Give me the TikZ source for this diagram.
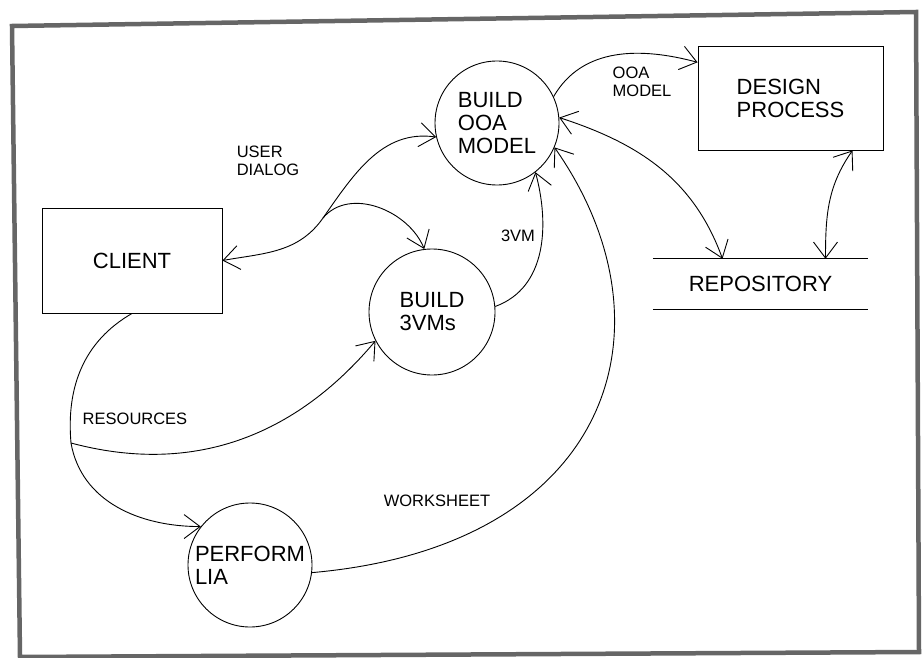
\documentclass[tikz,border=0pt]{standalone}
\usepackage{fontspec}
\setmainfont{Liberation Sans}
\usetikzlibrary{arrows.meta}

\begin{document}
\begin{tikzpicture}[x=1pt, y=1pt,
    every node/.style={font=\fontsize{22}{23}\selectfont},
    process/.style={draw, circle, line width=0.9pt, inner sep=0pt, minimum size=124pt, align=left},
    entity/.style={draw, rectangle, line width=0.9pt, inner sep=0pt, align=left},
    note/.style={font=\fontsize{16.5}{18.5}\selectfont, align=left},
    flow/.style={line width=0.9pt, >={Straight Barb[length=16pt, width=24pt, line width=0.9pt]}},
]
\useasboundingbox (0,0) rectangle (923,-658);

% scanned page frame
\draw[black!60, line width=4.5pt] (12,-26) -- (916,-12) -- (919,-652) -- (20,-657) -- cycle;

% processes, terminator and store
\node[process] (ooa) at (497,-123) {BUILD\\OOA\\MODEL};
\node[process, minimum size=126pt] (vms) at (432,-312) {BUILD\\3VMs};
\node[process] (lia) at (250,-565) {PERFORM\\LIA};
\node[entity, minimum width=180pt, minimum height=105pt] (client) at (132,-260.5) {CLIENT};
\node[entity, minimum width=185pt, minimum height=104pt] (design) at (790.5,-98) {DESIGN\\PROCESS};
\node[minimum width=215pt, minimum height=50pt, inner sep=0pt] (repo) at (760.5,-284) {REPOSITORY};
\draw[flow] (repo.north west) -- (repo.north east);
\draw[flow] (repo.south west) -- (repo.south east);

% fork points
\coordinate (dlg) at (323,-218);
\coordinate (res) at (71,-443);

% data flows
\draw[flow, <->] (client.east) to[out=10, in=235] (dlg) to[out=55, in=172] (ooa.193);
\draw[flow, ->] (dlg) to[out=50, in=112] (vms.97);
\draw[flow, ->] (vms.5) to[out=20, in=-75] (ooa.-52);
\draw[flow] (client.south) to[out=210, in=95] (res);
\draw[flow, ->] (res) to[out=-15, in=230] (vms.207);
\draw[flow, ->] (res) to[out=-80, in=180] (lia.142);
\draw[flow, ->] (lia.-7) .. controls +(5:300) and +(-55:220) .. (ooa.-23);
\draw[flow, ->] (ooa.25) to[out=60, in=165] (design.159);
\draw[flow, <->] (ooa.5) to[out=-18, in=110] ([xshift=-38pt]repo.north);
\draw[flow, <->] ([xshift=62pt]design.south) to[out=235, in=90] ([xshift=65pt]repo.north);

% flow labels
\node[note] (dialog) at (268,-161) {USER\\DIALOG};
\node[note] (vm) at (518,-236) {3VM};
\node[note] (model) at (642,-82) {OOA\\MODEL};
\node[note] (resources) at (135,-419) {RESOURCES};
\node[note] (worksheet) at (437,-501) {WORKSHEET};

\end{tikzpicture}
\end{document}
